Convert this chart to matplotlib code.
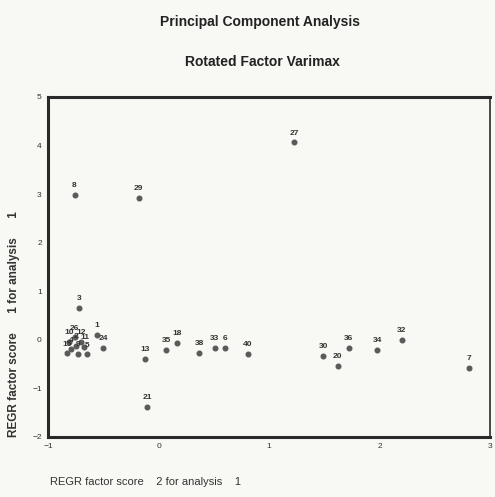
import matplotlib
matplotlib.use("Agg")
import matplotlib.pyplot as plt

plt.rcParams['font.family'] = ['Liberation Sans Narrow', 'Liberation Sans', 'DejaVu Sans']

# case numbers and factor scores
casos = ['8', '29', '27', '3', '1', '24',
         '26', '10', '12', '2', '4', '11', '15', '9', '5',
         '13', '21', '35', '18', '38', '33', '6', '40',
         '30', '20', '36', '34', '32', '7']
fator2 = [-0.76, -0.18, 1.23, -0.72, -0.56, -0.50,
          -0.76, -0.81, -0.70, -0.75, -0.79, -0.67, -0.83, -0.73, -0.65,
          -0.12, -0.10, 0.07, 0.17, 0.37, 0.51, 0.60, 0.81,
          1.49, 1.62, 1.72, 1.98, 2.20, 2.81]
fator1 = [2.98, 2.92, 4.07, 0.66, 0.10, -0.17,
          0.05, -0.04, -0.04, -0.12, -0.20, -0.15, -0.28, -0.29, -0.30,
          -0.39, -1.38, -0.21, -0.06, -0.27, -0.16, -0.16, -0.29,
          -0.33, -0.54, -0.16, -0.21, 0.00, -0.58]

fig = plt.figure(figsize=(4.95, 4.97), dpi=100, facecolor='#f8f8f4')
ax = fig.add_axes([0.097, 0.121, 0.893, 0.684])
ax.set_facecolor('#f8f8f4')

ax.scatter(fator2, fator1, s=11, color='#5a5a5a', zorder=3)
for c, xx, yy in zip(casos, fator2, fator1):
    ax.annotate(c, (xx, yy), xytext=(0, 4), textcoords='offset points',
                ha='center', va='bottom', fontsize=6, fontweight='bold',
                color='#333333')

ax.set_xlim(-1, 3)
ax.set_ylim(-2, 5)
ax.set_xticks([-1, 0, 1, 2, 3])
ax.set_yticks([-2, -1, 0, 1, 2, 3, 4, 5])
ax.tick_params(labelsize=6, length=2, width=1.2, direction='inout', colors='#333333')
for s in ['left', 'bottom', 'top']:
    ax.spines[s].set_linewidth(2.2)
    ax.spines[s].set_color('#2a2a2a')
ax.spines['right'].set_linewidth(1.2)
ax.spines['right'].set_color('#2a2a2a')

fig.text(0.525, 0.955, 'Principal Component Analysis', ha='center', va='center',
         fontsize=10, fontweight='bold', color='#222222')
fig.text(0.530, 0.875, 'Rotated Factor Varimax', ha='center', va='center',
         fontsize=10, fontweight='bold', color='#222222')

fig.text(0.028, 0.121, 'REGR factor score      1 for analysis      1', rotation=90,
         ha='center', va='bottom', fontsize=8.5, fontweight='bold', color='#333333')
fig.text(0.10, 0.030, 'REGR factor score    2 for analysis    1', ha='left', va='center',
         fontsize=8, color='#333333')

fig.savefig('out.png', dpi=100, facecolor=fig.get_facecolor())
